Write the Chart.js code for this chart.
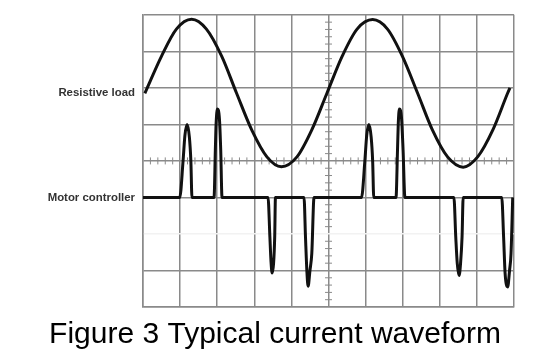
<!DOCTYPE html>
<html>
<head>
<meta charset="utf-8">
<script src="https://cdn.jsdelivr.net/npm/chart.js@4"></script>
<style>
  html, body { margin: 0; padding: 0; background: #fff; overflow: hidden; }
</style>
</head>
<body>
<canvas id="chart" width="533" height="361"></canvas>
<script>
// values in screen divisions (10 x 8 grid, 0 at the centre line)
var resistiveX = [0.05, 0.50, 0.90, 1.31, 1.71, 2.12, 2.52, 2.93, 3.34, 3.73, 4.15, 4.55, 4.96,
                  5.37, 5.77, 6.19, 6.59, 6.99, 7.40, 7.80, 8.21, 8.63, 9.02, 9.43, 9.83, 9.89];
var resistiveY = [1.85, 2.87, 3.61, 3.88, 3.61, 2.87, 1.86, 0.85, 0.11, -0.16, 0.11, 0.85, 1.86,
                  2.87, 3.61, 3.87, 3.61, 2.87, 1.86, 0.85, 0.11, -0.17, 0.11, 0.85, 1.86, 2.0];

var motorX = [0,
  0.99, 1.08, 1.13, 1.19, 1.25, 1.29, 1.32,
  1.915, 1.95, 1.97, 2.007, 2.06, 2.095, 2.13,
  3.37, 3.42, 3.45, 3.48, 3.52, 3.55, 3.57,
  4.34, 4.38, 4.42, 4.45, 4.50, 4.55, 4.61,
  5.89, 5.98, 6.03, 6.09, 6.15, 6.19, 6.22,
  6.82, 6.86, 6.88, 6.91, 6.97, 7.01, 7.06,
  8.38, 8.43, 8.47, 8.52, 8.56, 8.60, 8.63,
  9.67, 9.72, 9.76, 9.83, 9.88, 9.92, 9.965];
var motorY = [-1,
  -1, 0.0, 0.7, 1.0, 0.65, 0.0, -1,
  -1, 0.3, 1.0, 1.42, 1.15, 0.3, -1,
  -1, -2.08, -2.75, -3.07, -2.8, -2.08, -1,
  -1, -2.09, -3.07, -3.43, -3.0, -2.53, -1,
  -1, 0.0, 0.7, 1.0, 0.65, 0.0, -1,
  -1, 0.3, 1.0, 1.42, 1.15, 0.3, -1,
  -1, -2.08, -2.8, -3.14, -2.8, -2.08, -1,
  -1, -2.09, -3.07, -3.45, -3.0, -2.53, -1];

var seriesLabels = ['Resistive load', 'Motor controller'];
var labelLevels = [1.86, -1];
var titleText = 'Figure 3 Typical current waveform';

function toPoints(xs, ys) {
    return xs.map(function(x, i) { return {x: x, y: ys[i]}; });
}

var gridColor = '#8a8a8a';

// small tick marks on the two centre lines
var centerTicks = {
    id: 'centerTicks',
    beforeDatasetsDraw: function(chart) {
        var ctx = chart.ctx;
        var xs = chart.scales.x, ys = chart.scales.y;
        var cx = xs.getPixelForValue(5), cy = ys.getPixelForValue(0);
        ctx.save();
        ctx.strokeStyle = gridColor;
        ctx.lineWidth = 1;
        ctx.beginPath();
        for (var i = 1; i < 50; i++) {
            if (i % 5 === 0) continue;
            var px = xs.getPixelForValue(i / 5);
            ctx.moveTo(px, cy - 3.5);
            ctx.lineTo(px, cy + 3.5);
        }
        for (var j = -19; j < 20; j++) {
            if (j % 5 === 0) continue;
            var py = ys.getPixelForValue(j / 5);
            ctx.moveTo(cx - 3.5, py);
            ctx.lineTo(cx + 3.5, py);
        }
        ctx.stroke();
        ctx.restore();
    }
};

var ctx = document.getElementById('chart');
var chart = new Chart(ctx, {
    type: 'line',
    data: {
        datasets: [{
            label: seriesLabels[0],
            data: toPoints(resistiveX, resistiveY),
            borderColor: '#111',
            borderWidth: 3,
            pointRadius: 0,
            cubicInterpolationMode: 'monotone'
        }, {
            label: seriesLabels[1],
            data: toPoints(motorX, motorY),
            borderColor: '#111',
            borderWidth: 3,
            pointRadius: 0,
            cubicInterpolationMode: 'monotone'
        }]
    },
    options: {
        responsive: false,
        animation: false,
        layout: { padding: { left: 36, right: 19, top: 9, bottom: 8 } },
        plugins: {
            legend: { display: false },
            tooltip: { enabled: false },
            title: {
                display: true,
                text: titleText,
                position: 'bottom',
                color: '#000',
                font: { family: "'Liberation Sans', Arial, sans-serif", size: 30, weight: 'normal' },
                padding: { top: 10, bottom: 0 }
            }
        },
        scales: {
            x: {
                type: 'linear',
                min: 0,
                max: 10,
                ticks: { display: false, stepSize: 1 },
                grid: { color: gridColor, lineWidth: 1.5, drawTicks: false },
                border: { color: gridColor, width: 1.5 }
            },
            y: {
                type: 'linear',
                min: -4,
                max: 4,
                ticks: { display: false, stepSize: 1 },
                grid: {
                    color: function(c) { return c.tick && c.tick.value === -2 ? '#f2f2f2' : gridColor; },
                    lineWidth: 1.5,
                    drawTicks: false
                },
                border: { color: gridColor, width: 1.5 }
            },
            yLab: {
                type: 'linear',
                position: 'left',
                min: -4,
                max: 4,
                grid: { display: false, drawTicks: false },
                border: { display: false },
                afterBuildTicks: function(s) {
                    s.ticks = labelLevels.map(function(v) { return {value: v}; });
                },
                afterFit: function(s) { s.width = 107; },
                ticks: {
                    autoSkip: false,
                    padding: 8,
                    color: '#333',
                    font: { family: "'Liberation Sans', Arial, sans-serif", size: 11.4, weight: 'bold' },
                    callback: function(v, i) { return seriesLabels[i]; }
                }
            }
        }
    },
    plugins: [centerTicks]
});
</script>
</body>
</html>
